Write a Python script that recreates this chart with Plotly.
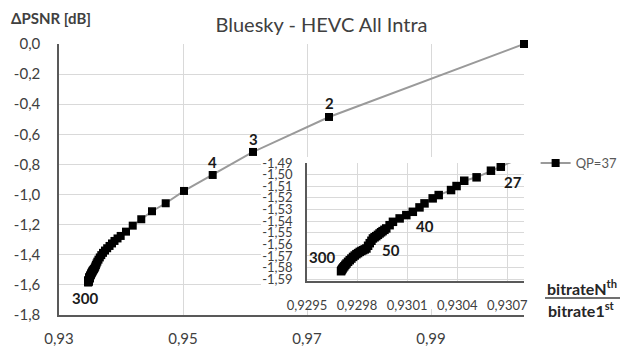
import plotly.graph_objects as go

# ---------------- data ----------------
# bitrate ratio (N-th / 1st) and delta PSNR for successive re-encodings
ratio = [
    1.0, 0.96855, 0.95629, 0.94979, 0.94516, 0.94221, 0.94000, 0.93827, 0.93689, 0.93581,
    0.93495, 0.93444, 0.93395, 0.93355, 0.93315, 0.93277, 0.93242, 0.93210, 0.93182, 0.93158,
    0.93137, 0.93119, 0.93106, 0.93095, 0.93086, 0.93078,
    0.930661, 0.930602, 0.930516, 0.930442, 0.930396, 0.930363, 0.930289, 0.930253, 0.930204, 0.930174,
    0.930134, 0.930095, 0.930055, 0.930015, 0.929995, 0.929975, 0.929964, 0.929953, 0.929944, 0.929935,
    0.929925, 0.929915, 0.929905, 0.929895, 0.929886, 0.929876, 0.929866, 0.929856, 0.929846, 0.929836,
    0.929826, 0.929816, 0.929806, 0.929796, 0.929786, 0.929776, 0.929766, 0.929756, 0.929746, 0.929737,
    0.929730, 0.929724, 0.929718, 0.929713, 0.929710, 0.929707, 0.929704,
]
dpsnr = [
    0.0, -0.4847, -0.7171, -0.8699, -0.9761, -1.0578, -1.1109, -1.1640, -1.2065, -1.2463,
    -1.2749, -1.2915, -1.3081, -1.3247, -1.3413, -1.3566, -1.3719, -1.3871, -1.4024, -1.4177,
    -1.4323, -1.4456, -1.4575, -1.4681, -1.4774, -1.4854,
    -1.49319, -1.49664, -1.50233, -1.50526, -1.50983, -1.51328, -1.51759, -1.52043, -1.52474, -1.52819,
    -1.53198, -1.53483, -1.53767, -1.54060, -1.54350, -1.54629, -1.54750, -1.54862, -1.54960, -1.55060,
    -1.55180, -1.55293, -1.55390, -1.55491, -1.55690, -1.55897, -1.56120, -1.56353, -1.56430, -1.56500,
    -1.56570, -1.56647, -1.56750, -1.56845, -1.56960, -1.57078, -1.57220, -1.57362, -1.57500, -1.57647,
    -1.57760, -1.57879, -1.57980, -1.58078, -1.58150, -1.58224, -1.58310,
]
series_name = "QP=37"

# axis ticks
main_x_ticks = [0.925, 0.945, 0.965, 0.985]
main_x_labels = ["0,93", "0,95", "0,97", "0,99"]
main_y_ticks = [0.0, -0.2, -0.4, -0.6, -0.8, -1.0, -1.2, -1.4, -1.6, -1.8]
main_y_labels = ["0,0", "-0,2", "-0,4", "-0,6", "-0,8", "-1,0", "-1,2", "-1,4", "-1,6", "-1,8"]
inset_x_ticks = [0.9295, 0.9298, 0.9301, 0.9304, 0.9307]
inset_x_labels = ["0,9295", "0,9298", "0,9301", "0,9304", "0,9307"]
inset_y_ticks = [-1.49, -1.50, -1.51, -1.52, -1.53, -1.54, -1.55, -1.56, -1.57, -1.58, -1.59]
inset_y_labels = ["-1,49", "-1,50", "-1,51", "-1,52", "-1,53", "-1,54", "-1,55", "-1,56", "-1,57", "-1,58", "-1,59"]

# point labels: (text, ratio value of the labelled point)
main_point_labels = [("2", 0.96855), ("3", 0.95629), ("4", 0.94979), ("300", 0.929704)]
inset_point_labels = [("27", 0.930661), ("40", 0.930015), ("50", 0.929796), ("300", 0.929704)]

# ---------------- styling ----------------
FONT = "Lato, 'Open Sans', sans-serif"
TXT = "#404040"
GRID = "#d9d9d9"
AXLINE = "#595959"
LINE = "#9a9a9a"

main_label_shift = {"2": (0, 14), "3": (0, 13), "4": (0, 13), "300": (-3, -16)}
inset_label_shift = {"27": (12, -15), "40": (32, -4), "50": (35, 4), "300": (-19, 14)}

fig = go.Figure()

fig.add_trace(go.Scatter(
    x=ratio, y=dpsnr, mode="lines+markers", name=series_name,
    line=dict(color=LINE, width=2),
    marker=dict(symbol="square", size=8, color="black", line=dict(width=0)),
    cliponaxis=False, xaxis="x", yaxis="y", hoverinfo="x+y",
))
# white cover box behind the inset (empty subplot)
fig.add_trace(go.Scatter(x=[], y=[], xaxis="x2", yaxis="y2", showlegend=False, hoverinfo="skip"))
# inset: zoom on the tail of the same series
fig.add_trace(go.Scatter(
    x=ratio, y=dpsnr, mode="lines+markers", name=series_name, showlegend=False,
    line=dict(color=LINE, width=2),
    marker=dict(symbol="square", size=8.5, color="black", line=dict(width=0)),
    cliponaxis=True, xaxis="x3", yaxis="y3", hoverinfo="x+y",
))

annotations = []
for txt, xv in main_point_labels:
    i = ratio.index(xv)
    dx, dy = main_label_shift[txt]
    annotations.append(dict(x=ratio[i], y=dpsnr[i], xref="x", yref="y", text="<b>%s</b>" % txt,
                            showarrow=False, xshift=dx, yshift=dy,
                            font=dict(family=FONT, size=15, color="#1a1a1a")))
for txt, xv in inset_point_labels:
    i = ratio.index(xv)
    dx, dy = inset_label_shift[txt]
    annotations.append(dict(x=ratio[i], y=dpsnr[i], xref="x3", yref="y3", text="<b>%s</b>" % txt,
                            showarrow=False, xshift=dx, yshift=dy,
                            font=dict(family=FONT, size=15, color="#1a1a1a")))
# axis titles
annotations.append(dict(x=-0.0172, y=1.096, xref="paper", yref="paper", text="<b>ΔPSNR [dB]</b>",
                        showarrow=False, xanchor="center", yanchor="middle",
                        font=dict(family=FONT, size=15, color=TXT)))
annotations.append(dict(x=1.1247, y=0.1033, xref="paper", yref="paper", text="<b>bitrateN<sup>th</sup></b>",
                        showarrow=False, xanchor="center", yanchor="middle",
                        font=dict(family=FONT, size=16, color="#262626")))
annotations.append(dict(x=1.1247, y=0.020, xref="paper", yref="paper", text="<b>bitrate1<sup>st</sup></b>",
                        showarrow=False, xanchor="center", yanchor="middle",
                        font=dict(family=FONT, size=16, color="#262626")))

shapes = [dict(type="line", xref="paper", yref="paper", x0=1.0452, x1=1.2065, y0=0.0627, y1=0.0627,
               line=dict(color="#404040", width=1.5))]

common_axis = dict(showgrid=True, gridcolor=GRID, gridwidth=1, zeroline=False, showline=True,
                   linecolor=AXLINE, linewidth=1.5, ticks="outside", tickcolor="rgba(0,0,0,0)",
                   automargin=False)

# the page body adds an 8 px offset, so the figure is 8 px smaller than the window
fig.update_layout(
    width=620, height=341,
    margin=dict(l=51, r=104, t=36, b=34, pad=0, autoexpand=False),
    paper_bgcolor="white", plot_bgcolor="#ffffff",
    font=dict(family=FONT, color=TXT),
    title=dict(text="Bluesky - HEVC All Intra", x=0.5056, xanchor="center", y=0.950, yanchor="middle",
               font=dict(family=FONT, size=20, color=TXT)),
    xaxis=dict(domain=[0, 1], range=[0.925, 1.0], tickmode="array", tickvals=main_x_ticks,
               ticktext=main_x_labels, ticklen=9, tickfont=dict(size=15, color=TXT), **common_axis),
    yaxis=dict(domain=[0, 1], range=[-1.8, 0.0], tickmode="array", tickvals=main_y_ticks,
               ticktext=main_y_labels, ticklen=14, tickfont=dict(size=15, color=TXT), **common_axis),
    xaxis2=dict(domain=[0.4344, 1.0], anchor="y2", range=[0, 1], visible=False),
    yaxis2=dict(domain=[0.0221, 0.583], anchor="x2", range=[0, 1], visible=False),
    xaxis3=dict(domain=[0.5333, 1.0], anchor="y3", range=[0.9295, 0.9308], tickmode="array",
                tickvals=inset_x_ticks, ticktext=inset_x_labels, ticklen=12,
                tickfont=dict(size=13, color=TXT), **common_axis),
    yaxis3=dict(domain=[0.1255, 0.5609], anchor="x3", range=[-1.5915, -1.49], tickmode="array",
                tickvals=inset_y_ticks, ticktext=inset_y_labels, ticklen=10,
                tickfont=dict(size=13, color=TXT), **common_axis),
    legend=dict(x=1.025, y=0.561, xanchor="left", yanchor="middle", bgcolor="rgba(0,0,0,0)",
                font=dict(family=FONT, size=13, color="#595959")),
    showlegend=True,
    annotations=annotations, shapes=shapes,
)

fig.write_html("out.html")
